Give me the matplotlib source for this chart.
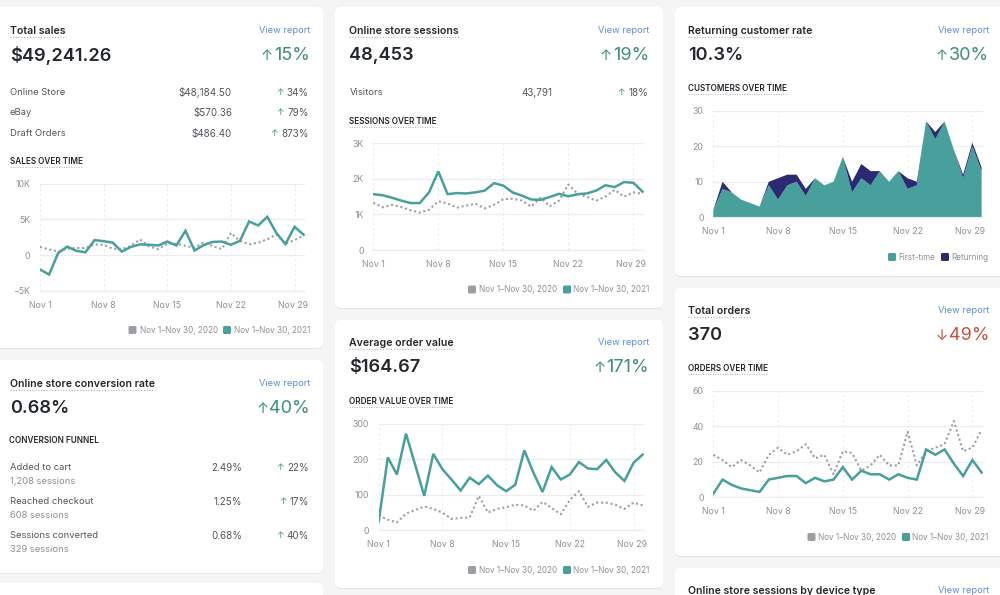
import matplotlib as mpl
import matplotlib.pyplot as plt
from matplotlib.patches import FancyBboxPatch
from matplotlib.transforms import ScaledTranslation

plt.rcParams['font.family'] = ['Inter', 'DejaVu Sans']

days = list(range(1, 31))
tick_days = [1, 8, 15, 22, 29]
tick_labels = ['Nov 1', 'Nov 8', 'Nov 15', 'Nov 22', 'Nov 29']
compare_labels = ['Nov 1\u2013Nov 30, 2020', 'Nov 1\u2013Nov 30, 2021']

sales_2021 = [-2000, -2700, 300, 1200, 600, 400, 2100, 1950, 1750, 500, 1150, 1500, 1450, 1350, 1900,
              1350, 3400, 650, 1400, 1850, 1900, 1450, 2000, 4700, 4150, 5350, 3100, 1550, 3950, 2850]
sales_2020 = [1150, 800, 500, 900, 1000, 1000, 1500, 1450, 900, 850, 1300, 2200, 1200, 850, 1600,
              1600, 1300, 1050, 1800, 1250, 850, 3100, 2000, 1500, 1750, 2200, 2900, 1600, 2100, 2750]
sessions_2021 = [1570, 1540, 1470, 1390, 1320, 1320, 1620, 2210, 1570, 1600, 1590, 1620, 1670, 1880, 1810,
                 1620, 1530, 1420, 1410, 1490, 1580, 1510, 1570, 1590, 1670, 1820, 1770, 1910, 1890, 1640]
sessions_2020 = [1330, 1200, 1270, 1210, 1120, 1050, 1130, 1370, 1310, 1190, 1250, 1300, 1170, 1270, 1430,
                 1440, 1390, 1220, 1470, 1230, 1390, 1840, 1580, 1490, 1390, 1500, 1690, 1500, 1620, 1580]
value_2021 = [25, 205, 157, 272, 185, 97, 215, 172, 143, 112, 148, 130, 154, 127, 110,
              128, 225, 162, 108, 178, 143, 157, 192, 174, 172, 198, 163, 139, 190, 213]
value_2020 = [42, 30, 22, 47, 57, 67, 60, 50, 32, 35, 36, 97, 50, 60, 65,
              72, 70, 55, 80, 63, 45, 85, 110, 66, 78, 78, 72, 60, 78, 70]
orders_2021 = [2, 10, 7, 5, 4, 3, 10, 11, 12, 12, 8, 11, 9, 10, 17,
               10, 15, 13, 13, 10, 13, 11, 10, 27, 24, 27, 19, 12, 21, 14]
orders_2020 = [24, 21, 17, 21, 18, 14, 24, 28, 24, 26, 30, 22, 24, 13, 26,
               25, 15, 18, 24, 18, 18, 37, 18, 26, 28, 30, 43, 26, 28, 38]
first_time = [2, 8, 7, 5, 4, 3, 9, 5, 9, 10, 6, 11, 9, 10, 17,
              7, 11, 9, 13, 10, 13, 8, 9, 27, 22, 27, 19, 11, 20, 13]
returning = [0, 2, 0, 0, 0, 0, 1, 6, 3, 2, 2, 0, 0, 0, 0,
             3, 4, 4, 0, 0, 0, 3, 1, 0, 2, 0, 0, 1, 1, 1]

TEAL = '#47a09c'
GRAY = '#9b9ea3'
NAVY = '#2a2a72'
GREEN = '#3f8f78'
RED = '#c8503c'
BLUE = '#5c8fd6'
DARK = '#24282c'
MID = '#53585e'
LIGHT = '#8c9196'
W, H = 1000, 595

fig = plt.figure(figsize=(10, 5.95), dpi=100, facecolor='#f5f5f5')

# whole figure layer in pixels for the cards and text
bg = fig.add_axes([0, 0, 1, 1])
bg.set_xlim(0, W)
bg.set_ylim(H, 0)
bg.axis('off')


def card(x0, y0, x1, y1):
    bg.add_patch(FancyBboxPatch((x0, y0 + 1), x1 - x0, y1 - y0, boxstyle='round,pad=0,rounding_size=6',
                                fc='#e4e5e7', ec='none'))
    bg.add_patch(FancyBboxPatch((x0, y0), x1 - x0, y1 - y0, boxstyle='round,pad=0,rounding_size=6',
                                fc='white', ec='none'))


def txt(x, y, s, size=6.8, color=MID, ha='left', weight='normal'):
    return bg.text(x, y + 0.7, s, fontsize=size, color=color, ha=ha, va='center', fontweight=weight)


def text_width(t):
    fig.canvas.draw()
    return t.get_window_extent().width


def header(x, right, y, title, value, change, up=True):
    t = txt(x, y, title, 7.6, DARK, weight='semibold')
    w = text_width(t)
    bg.plot([x, x + w], [y + 7, y + 7], color='#aeb2b6', lw=0.8, ls=(0, (1, 1.5)))
    txt(right, y, 'View report', 6.7, BLUE, ha='right')
    txt(x, y + 25, value, 13.1, DARK, weight='semibold')
    color = GREEN if up else RED
    c = txt(right, y + 25, change, 13, color, ha='right')
    w = text_width(c)
    txt(right - w - 1, y + 25, '\u2191' if up else '\u2193', 10.5, color, ha='right')


def subtitle(x, y, s, underline=True):
    t = txt(x, y, s, 5.9, DARK, weight='semibold')
    if underline:
        w = text_width(t)
        bg.plot([x, x + w], [y + 6, y + 6], color='#aeb2b6', lw=0.7, ls=(0, (1, 1.5)))


def row(x, y, name, val, val_x, change, right):
    txt(x, y, name)
    txt(val_x, y, val, 7.1, ha='right')
    c = txt(right, y, change, 7.1, ha='right')
    w = text_width(c)
    txt(right - w - 3.5, y, '\u2191', 6.5, GREEN, ha='right')


def legend(items, y):
    for sx, tx, color, label in items:
        bg.add_patch(FancyBboxPatch((sx, y - 4), 8, 8, boxstyle='round,pad=0,rounding_size=1.5',
                                    fc=color, ec='none'))
        txt(tx, y - 0.5, label, 5.85, LIGHT)


def chart(x0, x1, y_top, y_bot, ymin, ymax, yticks, ylabels):
    ax = fig.add_axes([x0 / W, 1 - y_bot / H, (x1 - x0) / W, (y_bot - y_top) / H])
    ax.set_xlim(1, 30.15)
    ax.set_ylim(ymin, ymax)
    ax.set_facecolor('none')
    ax.set_xticks(tick_days)
    ax.set_xticklabels(tick_labels)
    ax.set_yticks(yticks)
    ax.set_yticklabels(ylabels)
    ax.tick_params(axis='both', length=0, labelsize=6.3, labelcolor=LIGHT)
    ax.tick_params(axis='x', pad=7)
    ax.tick_params(axis='y', pad=7)
    ax.grid(axis='y', color='#ebecee', lw=0.9)
    ax.grid(axis='x', color='#e9eaec', lw=0.6, ls=(0, (3, 3)))
    ax.set_axisbelow(True)
    for s in ['top', 'right', 'left']:
        ax.spines[s].set_visible(False)
    ax.spines['bottom'].set_color('#ebecee')
    last = ax.get_xticklabels()[-1]
    last.set_transform(last.get_transform() + ScaledTranslation(-2 / 100, 0, fig.dpi_scale_trans))
    return ax


def compare(ax, old, new):
    ax.plot(days, old, color=GRAY, lw=1.5, ls=(0, (1, 1.3)))
    ax.plot(days, new, color=TEAL, lw=1.8, solid_joinstyle='miter')


card(-10, 7, 323, 348)
card(-10, 360, 323, 573)
card(-10, 583, 323, 640)
card(335, 7, 663, 308)
card(335, 320, 663, 588)
card(675, 7, 1010, 276)
card(675, 288, 1010, 556)
card(675, 568, 1010, 640)

# total sales
header(10, 310, 30, 'Total sales', '$49,241.26', '15%')
row(10, 92, 'Online Store', '$48,184.50', 232, '34%', 309)
row(10, 112, 'eBay', '$570.36', 232, '79%', 309)
row(10, 133, 'Draft Orders', '$486.40', 232, '873%', 309)
subtitle(10, 161, 'SALES OVER TIME')
ax = chart(40, 305, 183.5, 291, -5000, 10000, [-5000, 0, 5000, 10000], ['\u22125K', '0', '5K', '10K'])
compare(ax, sales_2020, sales_2021)
legend([(128.5, 140, GRAY, compare_labels[0]), (223, 234, TEAL, compare_labels[1])], 330)

# conversion rate
header(10, 310, 383, 'Online store conversion rate', '0.68%', '40%')
subtitle(9, 440, 'CONVERSION FUNNEL', underline=False)
row(10, 467, 'Added to cart', '2.49%', 242, '22%', 309)
txt(10, 481, '1,208 sessions', color=LIGHT)
row(10, 501, 'Reached checkout', '1.25%', 242, '17%', 309)
txt(10, 515, '608 sessions', color=LIGHT)
row(10, 535, 'Sessions converted', '0.68%', 242, '40%', 309)
txt(10, 549, '329 sessions', color=LIGHT)

# sessions
header(349, 649, 30, 'Online store sessions', '48,453', '19%')
row(350, 92, 'Visitors', '43,791', 552, '18%', 648)
subtitle(349, 121, 'SESSIONS OVER TIME')
ax = chart(373.3, 644, 143.3, 250, 0, 3000, [0, 1000, 2000, 3000], ['0', '1K', '2K', '3K'])
compare(ax, sessions_2020, sessions_2021)
legend([(468, 479, GRAY, compare_labels[0]), (563, 573, TEAL, compare_labels[1])], 289.5)

# order value
header(349, 649, 342, 'Average order value', '$164.67', '171%')
subtitle(349, 401, 'ORDER VALUE OVER TIME')
ax = chart(378.7, 644, 423.7, 530.3, 0, 300, [0, 100, 200, 300], ['0', '100', '200', '300'])
compare(ax, value_2020, value_2021)
legend([(468, 479, GRAY, compare_labels[0]), (563, 573, TEAL, compare_labels[1])], 570)

# returning customers
header(688, 989, 30, 'Returning customer rate', '10.3%', '30%')
subtitle(688, 88, 'CUSTOMERS OVER TIME')
ax = chart(713.3, 983, 110.7, 217.3, 0, 30, [0, 10, 20, 30], ['0', '10', '20', '30'])
ax.stackplot(days, first_time, returning, colors=[TEAL, NAVY], lw=0)
legend([(888, 898.7, TEAL, 'First-time'), (941, 951.7, NAVY, 'Returning')], 257)

# total orders
header(688, 989, 310, 'Total orders', '370', '49%', up=False)
subtitle(688, 368, 'ORDERS OVER TIME')
ax = chart(713.3, 983, 391, 497.3, 0, 60, [0, 20, 40, 60], ['0', '20', '40', '60'])
compare(ax, orders_2020, orders_2021)
legend([(807.5, 818.5, GRAY, compare_labels[0]), (902, 912.5, TEAL, compare_labels[1])], 537)

# cut off card at the bottom
txt(688, 590, 'Online store sessions by device type', 7.6, DARK, weight='semibold')
txt(989, 590, 'View report', 6.7, BLUE, ha='right')

fig.savefig('out.png', dpi=100, facecolor=fig.get_facecolor())
